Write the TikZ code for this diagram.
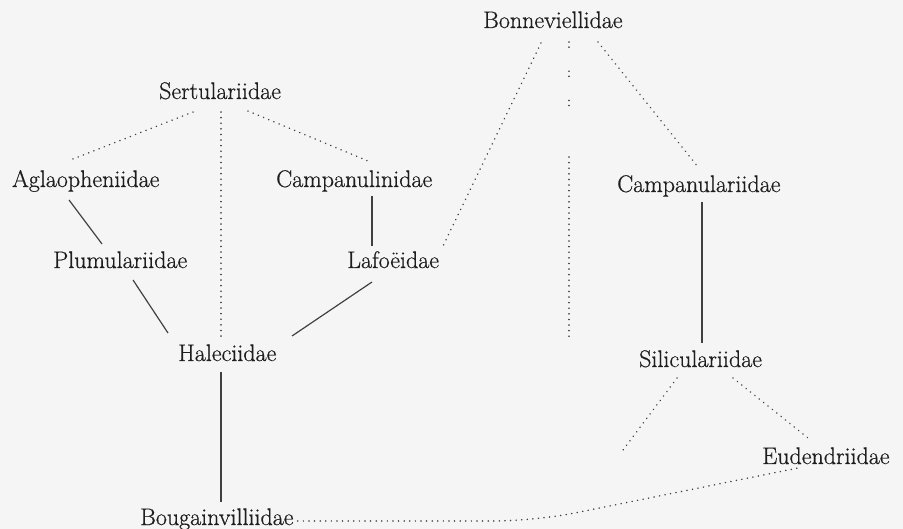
\documentclass[tikz,border=0pt]{standalone}
\usepackage{fontspec}
\setmainfont{Latin Modern Roman}[FakeBold=0.6]
\usetikzlibrary{calc}
\definecolor{ink}{HTML}{1E1E1E}
\definecolor{paper}{HTML}{F5F5F5}
\tikzset{
  taxon/.style={anchor=base west, inner sep=0pt, text=ink, font=\fontsize{24}{28}\selectfont},
  solidlink/.style={draw=ink!85, line width=1.2pt},
  dotlink/.style={draw=ink!85, line width=1.6pt, line cap=round, dash pattern=on 0.1pt off 5.5pt},
  sparselink/.style={draw=ink!85, line width=1.6pt, line cap=round, dash pattern=on 0.1pt off 5pt on 0.1pt off 24pt}
}
\begin{document}
\begin{tikzpicture}[x=1pt, y=-1pt]
\fill[paper] (0,0) rectangle (903,529);
\useasboundingbox (0,0) rectangle (903,529);

\node[taxon] (bon) at (483,28) {Bonneviellidae};
\node[taxon] (ser) at (159,99) {Sertulariidae};
\node[taxon] (agl) at (12,187) {Aglaopheniidae};
\node[taxon] (cpl) at (276,187) {Campanulinidae};
\node[taxon] (cpr) at (617,192) {Campanulariidae};
\node[taxon] (plu) at (53,268) {Plumulariidae};
\node[taxon] (laf) at (347,268) {Lafo\"eidae};
\node[taxon] (hal) at (178,361) {Haleciidae};
\node[taxon] (sil) at (639,367) {Siliculariidae};
\node[taxon] (eud) at (762,464) {Eudendriidae};
\node[taxon] (bou) at (140,525) {Bougainvilliidae};

\coordinate (bv1) at (569,157);
\coordinate (bv2) at (569,341);
\coordinate (silfree) at (620,454);
\coordinate (bend) at (535,521);

% dotted links
\draw[dotlink] ($(ser.base west)+(34,13)$) -- ($(agl.base west)+(61,-28)$);
\draw[dotlink] ($(ser.base west)+(62,13)$) -- ($(hal.base west)+(43,-24)$);
\draw[dotlink] ($(ser.base west)+(89,12)$) -- ($(cpl.base west)+(92,-26)$);
\draw[dotlink] ($(bon.base west)+(58,15)$) -- ($(laf.base west)+(96,-22)$);
\draw[sparselink] ($(bon.base west)+(86,14)$) -- ($(bon.base west)+(86,87)$);
\draw[dotlink] (bv1) -- (bv2);
\draw[dotlink] ($(bon.base west)+(115,14)$) -- ($(cpr.base west)+(81,-25)$);
\draw[dotlink] ($(sil.base west)+(38,11)$) -- (silfree);
\draw[dotlink] ($(sil.base west)+(94,11)$) -- ($(eud.base west)+(46,-26)$);
\draw[dotlink, rounded corners=40pt] ($(bou.base east)+(4,-4)$) -- (bend) -- ($(eud.base west)+(36,4)$);

% solid links
\draw[solidlink] ($(agl.base west)+(57,13)$) -- ($(plu.base west)+(49,-24)$);
\draw[solidlink] ($(plu.base west)+(80,12)$) -- ($(hal.base west)+(-10,-28)$);
\draw[solidlink] ($(cpl.base west)+(96,9)$) -- ($(laf.base west)+(25,-22)$);
\draw[solidlink] ($(laf.base west)+(25,14)$) -- ($(hal.base west)+(114,-25)$);
\draw[solidlink] ($(hal.base west)+(43,11)$) -- ($(bou.base west)+(81,-23)$);
\draw[solidlink] ($(cpr.base west)+(85,10)$) -- ($(sil.base west)+(63,-24)$);
\end{tikzpicture}
\end{document}
